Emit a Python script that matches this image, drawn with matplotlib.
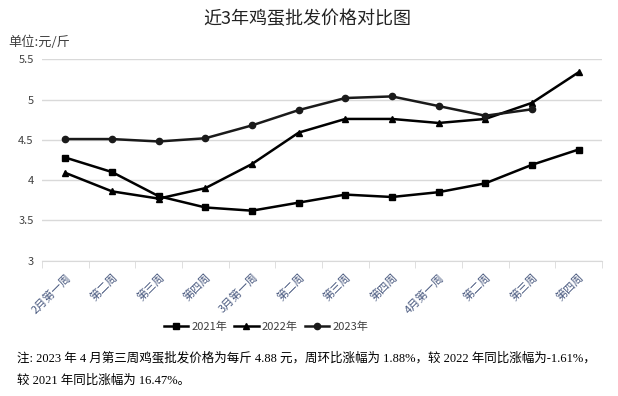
import matplotlib
matplotlib.use('Agg')
import matplotlib.pyplot as plt
import numpy as np
from matplotlib.ticker import FixedLocator

plt.rcParams['font.family'] = ['Noto Sans CJK SC', 'DejaVu Sans']

# 周次
weeks = ['2月第一周', '第二周', '第三周', '第四周',
         '3月第一周', '第二周', '第三周', '第四周',
         '4月第一周', '第二周', '第三周', '第四周']
# 各年鸡蛋批发价格 (元/斤)
price_2021 = [4.28, 4.10, 3.80, 3.66, 3.62, 3.72, 3.82, 3.79, 3.85, 3.96, 4.19, 4.38]
price_2022 = [4.09, 3.86, 3.77, 3.90, 4.20, 4.59, 4.76, 4.76, 4.71, 4.76, 4.96, 5.34]
price_2023 = [4.51, 4.51, 4.48, 4.52, 4.68, 4.87, 5.02, 5.04, 4.92, 4.80, 4.88]
yticks = [3, 3.5, 4, 4.5, 5, 5.5]
ytick_labels = ['3', '3.5', '4', '4.5', '5', '5.5']

note1 = '注: 2023 年 4 月第三周鸡蛋批发价格为每斤 4.88 元，周环比涨幅为 1.88%，较 2022 年同比涨幅为-1.61%，'
note2 = '较 2021 年同比涨幅为 16.47%。'

fig = plt.figure(figsize=(6.18, 3.96), dpi=100)
ax = fig.add_axes([0.068, 0.342, 0.906, 0.508])

x = np.arange(len(weeks))
ax.plot(x, price_2021, color='black', linewidth=1.8, marker='s', markersize=4.5, label='2021年')
ax.plot(x, price_2022, color='black', linewidth=1.8, marker='^', markersize=4.5, label='2022年')
ax.plot(np.arange(len(price_2023)), price_2023, color='#1a1a1a', linewidth=1.8, marker='o',
        markersize=4.5, label='2023年')

ax.set_xlim(-0.5, len(weeks) - 0.5)
ax.set_ylim(3, 5.5)
ax.set_yticks(yticks)
ax.set_yticklabels(ytick_labels)
ax.yaxis.grid(True, color='#d9d9d9', linewidth=1)
ax.set_axisbelow(True)
ax.tick_params(axis='y', length=0, labelsize=8, labelcolor='#404040', pad=6)

ax.set_xticks(x)
ax.set_xticklabels(weeks, rotation=45, ha='right', va='top', rotation_mode='anchor',
                   fontsize=8, color='#4a5a80')
ax.xaxis.set_minor_locator(FixedLocator(np.arange(-0.5, len(weeks), 1)))
ax.tick_params(axis='x', which='major', length=0, pad=8)
ax.tick_params(axis='x', which='minor', length=5, color='#d9d9d9')

for s in ['top', 'right', 'left']:
    ax.spines[s].set_visible(False)
ax.spines['bottom'].set_color('#d9d9d9')

ax.legend(loc='center', bbox_to_anchor=(0.40, -0.33), ncol=3, frameon=False,
          fontsize=8, handlelength=2.2, columnspacing=0.6, handletextpad=0.3,
          labelcolor='#404040')

fig.text(0.497, 0.952, '近3年鸡蛋批发价格对比图', ha='center', va='center', fontsize=13, color='#222222')
fig.text(0.013, 0.893, '单位:元/斤', ha='left', va='center', fontsize=9.5, color='#404040')

note_font = ['Liberation Serif', 'Noto Sans CJK SC']
fig.text(0.027, 0.096, note1, ha='left', va='center', fontsize=9, family=note_font)
fig.text(0.027, 0.038, note2, ha='left', va='center', fontsize=9, family=note_font)

fig.savefig('out.png', dpi=100)
